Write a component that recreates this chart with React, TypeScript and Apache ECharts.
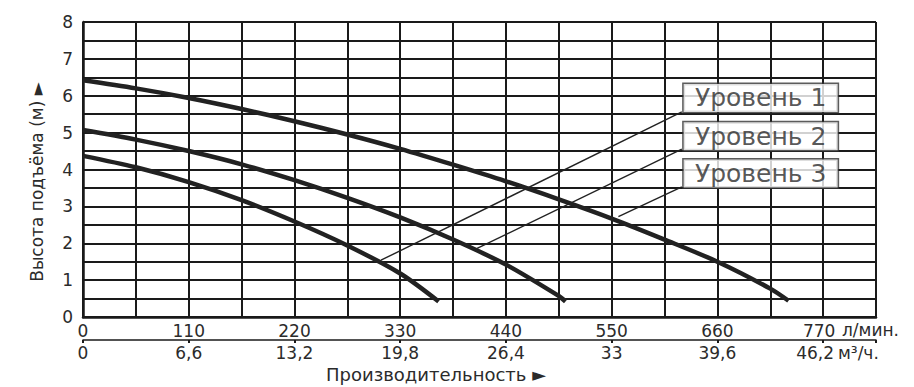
import React, { useEffect, useRef } from "react";
import * as echarts from "echarts";

// Flow in л/мин. (x) vs head in m (y)
const level1: [number, number][] = [
  [0, 6.42], [55, 6.2], [110, 5.94], [165, 5.64], [220, 5.31], [275, 4.95],
  [330, 4.56], [385, 4.13], [440, 3.68], [495, 3.19], [550, 2.67], [605, 2.1],
  [660, 1.5], [715, 0.77], [734, 0.44],
];
const level2: [number, number][] = [
  [0, 5.07], [55, 4.81], [110, 4.5], [165, 4.14], [220, 3.71], [275, 3.23],
  [330, 2.7], [385, 2.1], [440, 1.42], [495, 0.57], [502, 0.42],
];
const level3: [number, number][] = [
  [0, 4.37], [55, 4.06], [110, 3.66], [165, 3.17], [220, 2.59], [275, 1.94],
  [330, 1.18], [370, 0.42],
];

// leader lines: start on a curve, end at the label box corner
const leader1: [number, number][] = [[310, 1.54], [623, 5.56]];
const leader2: [number, number][] = [[410, 1.86], [623, 4.55]];
const leader3: [number, number][] = [[557, 2.72], [623, 3.53]];

const labelNames = ["Уровень 1", "Уровень 2", "Уровень 3"];
const labelPos: [number, number][] = [[705, 5.94], [705, 4.9], [705, 3.89]];

const flowMax = 825; // л/мин.
const flowStep = 55;
const flowLabelStep = 110;
const m3Max = 49.5; // м³/ч.
const m3Step = 6.6;
const headMax = 8;
const headStep = 0.5;

const FONT = "DejaVu Sans";
const INK = "#1a1a1a";
const TXT = "#2b2b2b";

export default function App() {
  const ref = useRef<HTMLDivElement>(null);
  useEffect(() => {
    if (!ref.current) return;
    const chart = echarts.init(ref.current, undefined, { renderer: "svg" });
    const curve = (d: [number, number][]) => ({
      type: "line",
      data: d,
      smooth: 0.3,
      symbol: "none",
      lineStyle: { color: "#222", width: 4.5 },
      z: 5,
      silent: true,
    });
    const leader = (d: [number, number][]) => ({
      type: "line",
      data: d,
      symbol: "none",
      lineStyle: { color: "#222", width: 1.4 },
      z: 4,
      silent: true,
    });
    chart.setOption({
      animation: false,
      grid: { left: 83, right: 38, top: 22, bottom: 70, outerBoundsMode: "none" },
      xAxis: [
        {
          type: "value",
          min: 0,
          max: flowMax,
          interval: flowStep,
          position: "bottom",
          axisLine: { show: true, onZero: false, lineStyle: { color: INK, width: 2.5 } },
          axisTick: { show: false },
          splitLine: { show: true, lineStyle: { color: INK, width: 2 } },
          axisLabel: {
            show: true,
            margin: 5,
            fontFamily: FONT,
            fontSize: 17,
            color: TXT,
            showMinLabel: true,
            showMaxLabel: true,
            formatter: (v: number) => {
              if (Math.abs(v % flowLabelStep) > 1e-6) return "";
              return v === 770 ? "{s|770}" : String(v);
            },
            rich: { s: { padding: [0, 8, 0, 0], fontFamily: FONT, fontSize: 17, color: TXT } },
          },
        },
        {
          type: "value",
          min: 0,
          max: m3Max,
          interval: m3Step,
          position: "bottom",
          offset: 23,
          axisLine: { show: true, onZero: false, lineStyle: { color: INK, width: 1.5 } },
          axisTick: { show: true, length: 3, lineStyle: { color: INK, width: 2 } },
          splitLine: { show: false },
          axisLabel: {
            show: true,
            margin: 4,
            fontFamily: FONT,
            fontSize: 17,
            color: TXT,
            showMinLabel: true,
            showMaxLabel: true,
            formatter: (v: number) => {
              const k = v / m3Step;
              if (Math.abs(k - Math.round(k)) > 1e-6) return "";
              const r = Math.round(v * 10) / 10;
              const s = String(r).replace(".", ",");
              return Math.round(k) === 7 ? "{s|" + s + "}" : s;
            },
            rich: { s: { padding: [0, 16, 0, 0], fontFamily: FONT, fontSize: 17, color: TXT } },
          },
        },
      ],
      yAxis: {
        type: "value",
        min: 0,
        max: headMax,
        interval: headStep,
        axisLine: { show: true, lineStyle: { color: INK, width: 2.5 } },
        axisTick: { show: false },
        splitLine: { show: true, lineStyle: { color: INK, width: 2 } },
        axisLabel: {
          margin: 10,
          fontFamily: FONT,
          fontSize: 17,
          color: TXT,
          formatter: (v: number) => (Number.isInteger(v) ? String(v) : ""),
        },
      },
      graphic: [
        {
          type: "text",
          x: 37,
          y: 182,
          rotation: Math.PI / 2,
          style: {
            text: "Высота подъёма (м) ►",
            fontFamily: FONT,
            fontSize: 17,
            fill: TXT,
            textAlign: "center",
            textVerticalAlign: "middle",
          },
        },
        {
          type: "text",
          x: 436,
          y: 374,
          style: {
            text: "Производительность ►",
            fontFamily: FONT,
            fontSize: 18,
            fill: TXT,
            textAlign: "center",
            textVerticalAlign: "middle",
          },
        },
        {
          type: "text",
          x: 842,
          y: 330,
          style: {
            text: "л/мин.",
            fontFamily: FONT,
            fontSize: 17,
            fill: TXT,
            textAlign: "left",
            textVerticalAlign: "middle",
          },
        },
        {
          type: "text",
          x: 838,
          y: 353,
          style: {
            text: "м³/ч.",
            fontFamily: FONT,
            fontSize: 17,
            fill: TXT,
            textAlign: "left",
            textVerticalAlign: "middle",
          },
        },
      ],
      series: [
        curve(level1),
        curve(level2),
        curve(level3),
        leader(leader1),
        leader(leader2),
        leader(leader3),
        {
          type: "scatter",
          data: labelPos.map((p, i) => ({ value: p, name: labelNames[i] })),
          symbolSize: 1,
          itemStyle: { color: "rgba(0,0,0,0)" },
          z: 10,
          silent: true,
          label: {
            show: true,
            position: "inside",
            formatter: "{b}",
            fontFamily: FONT,
            fontSize: 25,
            color: TXT,
            backgroundColor: "#fff",
            borderColor: "#333",
            borderWidth: 1.5,
            padding: [3, 8, 3, 8],
            width: 138,
            height: 22,
            lineHeight: 22,
            align: "center",
            verticalAlign: "middle",
          },
        },
      ],
    });
    return () => chart.dispose();
  }, []);
  return (
    <div
      ref={ref}
      style={{ position: "fixed", left: 0, top: 0, width: 914, height: 387, background: "#fff" }}
    />
  );
}
